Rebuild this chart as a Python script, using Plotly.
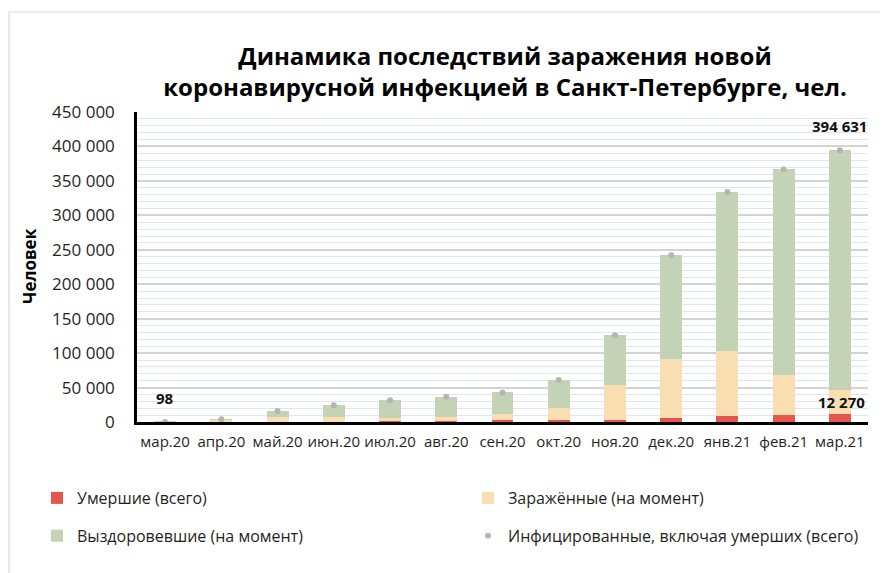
import plotly.graph_objects as go

months = ["мар.20", "апр.20", "май.20", "июн.20", "июл.20", "авг.20", "сен.20",
          "окт.20", "ноя.20", "дек.20", "янв.21", "фев.21", "мар.21"]
deaths = [0, 30, 150, 500, 1200, 1800, 2300, 2800, 3600, 6300, 8200, 9700, 12270]
infected_now = [90, 3300, 7350, 6800, 5100, 5500, 8700, 18000, 49600, 85600, 94400, 58000, 33730]
recovered_now = [8, 670, 8300, 16900, 25200, 29500, 32000, 40200, 72600, 150000, 231200, 299000, 348631]
infected_total = [98, 4000, 15800, 24200, 31500, 36800, 43000, 61000, 125800, 241900, 333800, 366700, 394631]

FONT = "Open Sans"
TXT = "#1f1f1f"

fig = go.Figure()
fig.add_trace(go.Bar(x=months, y=deaths, name="Умершие (всего)",
                     marker=dict(color="#e5564e", line_width=0), legend="legend"))
fig.add_trace(go.Bar(x=months, y=infected_now, name="Заражённые (на момент)",
                     marker=dict(color="#f8deb0", line_width=0), legend="legend2"))
fig.add_trace(go.Bar(x=months, y=recovered_now, name="Выздоровевшие (на момент)",
                     marker=dict(color="#c4d2b6", line_width=0), legend="legend"))
fig.add_trace(go.Scatter(x=months, y=infected_total, mode="markers",
                         name="Инфицированные, включая умерших (всего)",
                         marker=dict(color="#b5b5b5", size=6), legend="legend2"))

def fmt(v):
    return f"{v:,}".replace(",", " ")

lab = dict(showarrow=False, font=dict(family=FONT, size=15, color="#111111", weight="bold"))
fig.add_annotation(x=months[0], y=infected_total[0], text=fmt(infected_total[0]),
                   yshift=24, **lab)
fig.add_annotation(x=months[-1], y=infected_total[-1], text=fmt(infected_total[-1]),
                   yshift=24, xshift=0, **lab)
fig.add_annotation(x=months[-1], y=deaths[-1], text=fmt(deaths[-1]),
                   yshift=12, xshift=2, **lab)

# figure is placed in page with an 8px body margin
W, H = 880, 565
L, R, T, B = 129, 20, 104, 151
pw, ph = W - L - R, H - T - B

def px(x):
    return (x - L) / pw

def py(y):
    return (H - B - y) / ph

# y-axis title
fig.add_annotation(xref="paper", yref="paper", x=px(21), y=py(258), text="Человек",
                   textangle=-90, showarrow=False, xanchor="center", yanchor="middle",
                   font=dict(family=FONT, size=17, color="#000000", weight="bold"))

fig.add_shape(type="rect", xref="paper", yref="paper",
              x0=px(1), x1=px(900), y0=py(600), y1=py(4),
              line=dict(color="#d9d9d9", width=1.2), fillcolor="rgba(0,0,0,0)", layer="below")

leg_common = dict(xref="container", yref="container", xanchor="left", yanchor="top",
                  orientation="v", traceorder="grouped", tracegroupgap=14,
                  font=dict(size=16, color=TXT), bgcolor="rgba(0,0,0,0)")

fig.update_layout(
    width=W, height=H,
    margin=dict(l=L, r=R, t=T, b=B, autoexpand=False),
    paper_bgcolor="white", plot_bgcolor="white",
    barmode="stack", bargap=0.61,
    separators=", ",
    font=dict(family=FONT, size=14, color=TXT),
    title=dict(text="Динамика последствий заражения новой<br>коронавирусной инфекцией в Санкт-Петербурге, чел.",
               x=497 / W, xanchor="center", y=1 - 57 / H, yanchor="middle",
               font=dict(family=FONT, size=24, color="#000000", weight="bold")),
    xaxis=dict(range=[-0.5, len(months) - 0.5], autorange=False,
               showline=True, linecolor="#000000", linewidth=3,
               ticks="outside", ticklen=4, tickcolor="rgba(0,0,0,0)",
               tickfont=dict(size=15, color=TXT), showgrid=False),
    yaxis=dict(range=[0, 450000], dtick=50000, tickformat=",d",
               showline=True, linecolor="#000000", linewidth=2.5,
               ticks="outside", ticklen=16, tickcolor="rgba(0,0,0,0)",
               tickfont=dict(size=17, color=TXT),
               showgrid=True, gridcolor="#d3d3d3", gridwidth=1.5,
               minor=dict(dtick=10000, showgrid=True, gridcolor="#dde6f1", gridwidth=1.2),
               zeroline=False),
    legend=dict(x=29 / W, y=1 - 473 / H, **leg_common),
    legend2=dict(x=460 / W, y=1 - 473 / H, **leg_common),
)
for i, tr in enumerate(fig.data):
    tr.legendgroup = f"g{i}"

fig.write_html("out.html")
